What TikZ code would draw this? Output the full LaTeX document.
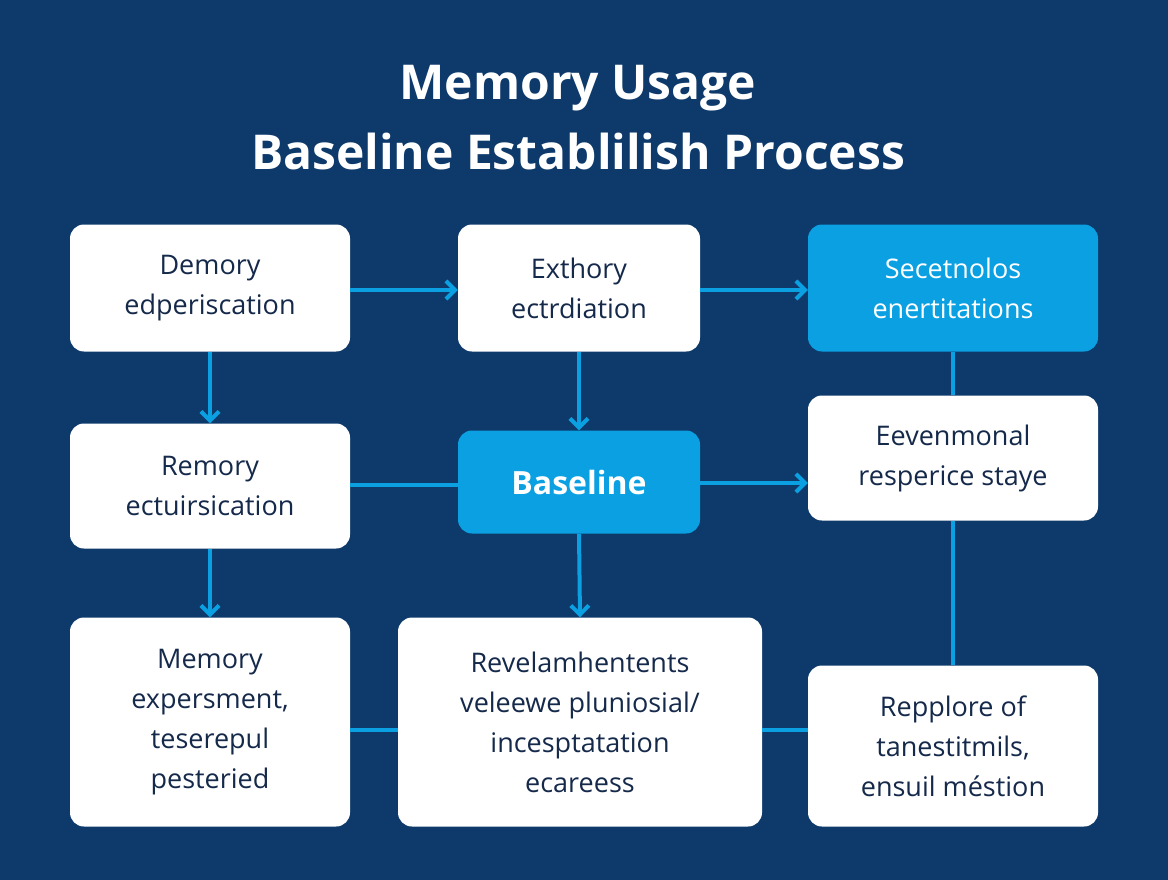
\documentclass[tikz,border=0pt]{standalone}
\usepackage{fontspec}
\setmainfont{Open Sans}
\usetikzlibrary{arrows.meta}
\definecolor{bg}{HTML}{0D3A6B}
\definecolor{acc}{HTML}{0AA0E2}
\definecolor{ink}{HTML}{15294A}
\begin{document}
\begin{tikzpicture}[x=1pt,y=-1pt,
 wbox/.style={draw=none,fill=white,rounded corners=14pt,text=ink,align=center,font=\fontsize{27}{40}\selectfont,inner sep=0pt},
 bbox/.style={wbox,fill=acc,text=white},
 conn/.style={draw=acc,line width=4pt},
 arr/.style={conn,-{Straight Barb[length=9pt,width=18pt,line width=4pt]}}]
\fill[bg] (0,0) rectangle (1168,880);
\useasboundingbox (0,0) rectangle (1168,880);
\node[text=white,font=\bfseries\fontsize{48}{70}\selectfont,align=center] (title) at (578,118) {Memory Usage\\Baseline Establilish Process};
\node[wbox,minimum width=280pt,minimum height=127pt] (A) at (210,288) {Demory\\edperiscation};
\node[wbox,minimum width=242pt,minimum height=127pt] (B) at (579,288) {Exthory\\ectrdiation};
\node[bbox,minimum width=290pt,minimum height=127pt] (C) at (953,288) {Secetnolos\\enertitations};
\node[wbox,minimum width=280pt,minimum height=125pt] (D) at (210,486) {Remory\\ectuirsication};
\node[bbox,minimum width=242pt,minimum height=103pt,font=\bfseries\fontsize{32}{40}\selectfont] (E) at (579,482) {Baseline};
\node[wbox,minimum width=290pt,minimum height=125pt] (F) at (953,458) {Eevenmonal\\resperice staye};
\node[wbox,minimum width=280pt,minimum height=209pt] (G) at (210,722) {Memory\\expersment,\\teserepul\\pesteried};
\node[wbox,minimum width=364pt,minimum height=209pt] (H) at (580,722) {Revelamhentents\\veleewe pluniosial/\\incesptatation\\ecareess};
\node[wbox,minimum width=290pt,minimum height=161pt] (I) at (953,746) {Repplore of\\tanestitmils,\\ensuil méstion};
\draw[arr] (A.east|-0,290) -- (B.west|-0,290);
\draw[arr] (B.east|-0,290) -- (C.west|-0,290);
\draw[arr] (A.south) -- (D.north);
\draw[arr] (B.south) -- (E.north);
\draw[conn] (D.east|-0,485) -- (E.west|-0,485);
\draw[arr] (E.east|-0,483) -- (F.west|-0,483);
\draw[conn] (C.south) -- (F.north);
\draw[arr] (D.south) -- (G.north);
\draw[arr] (E.south) -- (H.north);
\draw[conn] (G.east|-0,730) -- (H.west|-0,730);
\draw[conn] (H.east|-0,730) -- (I.west|-0,730);
\draw[conn] (F.south) -- (I.north);
\end{tikzpicture}
\end{document}
